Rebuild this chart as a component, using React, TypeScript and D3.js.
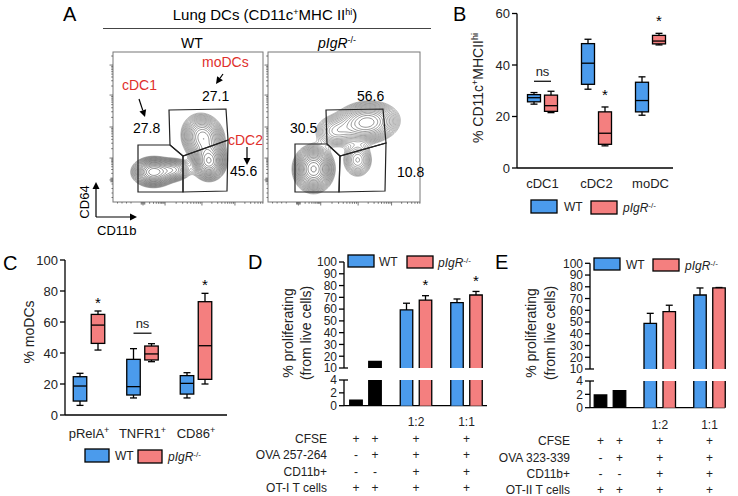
import React from 'react';
import * as d3 from 'd3';

const BLUE = '#4b9bec';
const PINK = '#f47f7f';
const FONT = '"Liberation Sans", Arial, sans-serif';

// ---------- Panel B ----------
const bCategories = ['cDC1', 'cDC2', 'moDC'];
// [whiskerLow, q1, median, q3, whiskerHigh]
const bWT = [[24.8, 25.7, 27.3, 28.5, 29.3], [30.6, 32.5, 40.7, 48.3, 50], [20.5, 21.8, 26.2, 33.3, 35.4]];
const bKO = [[21.5, 22, 24.2, 28.3, 29.8], [8.6, 9.2, 13.5, 21.8, 23.7], [47.8, 48.2, 49.3, 51.5, 52.3]];
const bTicks = [0, 20, 40, 60];
const bSig = ['ns', '*', '*'];

// ---------- Panel C ----------
const cCategories = ['pRelA', 'TNFR1', 'CD86'];
const cWT = [[6.2, 9, 18.7, 24.7, 26.9], [11, 12.9, 18.3, 35.9, 42.8], [11, 13.5, 20.4, 25.4, 27.3]];
const cKO = [[41.9, 46.2, 58, 64.9, 67.1], [34.4, 35.5, 39.4, 44.5, 46], [20, 23, 44.7, 73.1, 78.5]];
const cTicks = [0, 20, 40, 60, 80, 100];
const cSig = ['*', 'ns', '*'];

// ---------- Panel D ----------
const dGroups = ['ctrl', '1:2', '1:1'];
const dCtrl = [0.88, 15.5];
const dWT = [59.3, 65.5];
const dWTerr = [5.7, 3.1];
const dKO = [67.7, 72];
const dKOerr = [3.7, 3];
const dSig = ['', '*', '*'];
const dRows = ['CFSE', 'OVA 257-264', 'CD11b+', 'OT-I T cells'];
const dMarks = [['+', '+', '+', '+'], ['-', '+', '+', '+'], ['-', '-', '+', '+'], ['+', '+', '+', '+']];

// ---------- Panel E ----------
const eCtrl = [1.9, 2.55];
const eWT = [48.9, 73];
const eWTerr = [8.5, 6];
const eKO = [58.9, 79];
const eKOerr = [5.4, 0.4];
const eSig = ['', '', ''];
const eRows = ['CFSE', 'OVA 323-339', 'CD11b+', 'OT-II T cells'];
const eMarks = [['+', '+', '+', '+'], ['-', '+', '+', '+'], ['-', '-', '+', '+'], ['+', '+', '+', '+']];

const upperTicks = [10, 20, 30, 40, 50, 60, 70, 80, 90, 100];
const lowerTicks = [0, 2, 4];

// ---------- Panel A (flow populations: [cx, cy, sx, sy, angle, weight]) ----------
const wtBlobs = [
  [0.27, 0.2, 0.065, 0.045, 0, 1.0],
  [0.41, 0.215, 0.055, 0.037, 0, 0.45],
  [0.6, 0.43, 0.065, 0.075, 0.4, 0.75],
  [0.64, 0.27, 0.052, 0.058, 0, 1.0],
];
const koBlobs = [
  [0.3, 0.22, 0.06, 0.07, 0, 1.3],
  [0.65, 0.53, 0.1, 0.065, 0.1, 0.9],
  [0.44, 0.47, 0.07, 0.055, 0, 0.35],
  [0.59, 0.28, 0.05, 0.06, 0, 0.4],
];
const wtPercents = ['27.8', '27.1', '45.6'];
const koPercents = ['30.5', '56.6', '10.8'];

const KO = (sup = 8) => (
  <>
    <tspan fontStyle="italic">pIgR</tspan>
    <tspan baselineShift="super" fontSize={sup}>-/-</tspan>
  </>
);

function arrow(x1: number, y1: number, x2: number, y2: number, key: string) {
  const a = Math.atan2(y2 - y1, x2 - x1);
  const L = 7, W = 3.5;
  const bx = x2 - L * Math.cos(a), by = y2 - L * Math.sin(a);
  const p = [
    [x2, y2],
    [bx + W * Math.sin(a), by - W * Math.cos(a)],
    [bx - W * Math.sin(a), by + W * Math.cos(a)],
  ];
  return (
    <g key={key}>
      <line x1={x1} y1={y1} x2={bx} y2={by} stroke="#000" strokeWidth={1.2} />
      <polygon points={p.map((q) => q.join(',')).join(' ')} fill="#000" />
    </g>
  );
}

const thresholdsRel = d3.range(20).map((i) => 0.06 * Math.pow(0.96 / 0.06, i / 19));

function ContourPlot({ x0, y0, w, h, blobs, id }: any) {
  const n = 120;
  const values: number[] = new Array(n * n).fill(0);
  for (let j = 0; j < n; j++) {
    const v = 1 - (j + 0.5) / n;
    for (let i = 0; i < n; i++) {
      const u = (i + 0.5) / n;
      let s = 0;
      for (const [cx, cy, sx, sy, ang, wt] of blobs) {
        const dx = u - cx, dy = v - cy;
        const a = dx * Math.cos(ang) + dy * Math.sin(ang);
        const b = -dx * Math.sin(ang) + dy * Math.cos(ang);
        s += wt * Math.exp(-(a * a / (2 * sx * sx) + b * b / (2 * sy * sy)));
      }
      values[j * n + i] = s;
    }
  }
  const mx = d3.max(values) as number;
  const contours = d3.contours().size([n, n]).thresholds(thresholdsRel.map((t) => t * mx))(values);
  const path = d3.geoPath();
  return (
    <g>
      <clipPath id={id}>
        <rect x={x0} y={y0} width={w} height={h} />
      </clipPath>
      <g clipPath={`url(#${id})`}>
        <g transform={`translate(${x0},${y0}) scale(${w / n},${h / n})`}>
          {contours.map((c, k) => (
            <path key={k} d={path(c as any) || ''} fill="none" stroke="#333" strokeOpacity={0.55 + 0.4 * (k / contours.length)} strokeWidth={0.6} vectorEffect="non-scaling-stroke" />
          ))}
        </g>
      </g>
    </g>
  );
}

const leftMajors = [0.147, 0.293, 0.5, 0.713, 0.913];
const bottomMajors = [0.2, 0.347, 0.593, 0.813];

function fcsTicks(majors: number[]) {
  const out: { p: number; len: number }[] = [];
  majors.forEach((m, i) => {
    out.push({ p: m, len: 3.5 });
    const next = i < majors.length - 1 ? majors[i + 1] : m + (m - majors[i - 1]);
    const span = next - m;
    for (let k = 2; k <= 9; k++) {
      const p = m + Math.log10(k) * span;
      if (p < 1) out.push({ p, len: 1.8 });
    }
  });
  [-0.012, -0.006, 0.006, 0.012].forEach((d) => out.push({ p: majors[0] + d, len: 2.5 }));
  [0.03, 0.06, 0.09, 0.12].forEach((p) => out.push({ p, len: 1.5 }));
  return out;
}

function FlowBox({ x0, y0, w, h, blobs, id, gates }: any) {
  const lt = fcsTicks(leftMajors);
  const bt = fcsTicks(bottomMajors);
  return (
    <g>
      <ContourPlot x0={x0} y0={y0} w={w} h={h} blobs={blobs} id={id} />
      <rect x={x0} y={y0} width={w} height={h} fill="none" stroke="#777" strokeWidth={1} />
      {lt.map((t, k) => (
        <line key={'l' + k} x1={x0} x2={x0 - t.len} y1={y0 + h - t.p * h} y2={y0 + h - t.p * h} stroke="#555" strokeWidth={0.8} />
      ))}
      {bt.map((t, k) => (
        <line key={'b' + k} y1={y0 + h} y2={y0 + h + t.len} x1={x0 + t.p * w} x2={x0 + t.p * w} stroke="#555" strokeWidth={0.8} />
      ))}
      {gates.map((g: number[][], k: number) => (
        <polygon key={'g' + k} points={g.map((p) => p.join(',')).join(' ')} fill="none" stroke="#222" strokeWidth={1.2} />
      ))}
    </g>
  );
}

function PanelA() {
  const wtGates = [
    [[138, 145], [170, 145], [183, 156], [183, 192], [138, 192]],
    [[169, 110], [226, 109], [228, 140], [183, 156], [170, 145]],
    [[183, 156], [228, 140], [227, 191], [183, 192]],
  ];
  const koGates = [
    [[295, 144], [327, 144], [340, 156], [339, 192], [295, 192]],
    [[326, 110], [383, 109], [386, 143], [340, 156], [327, 144]],
    [[340, 156], [386, 143], [385, 191], [339, 192]],
  ];
  return (
    <g>
      <text x={63} y={21} fontSize={20}>A</text>
      <text x={265} y={20} fontSize={15} textAnchor="middle">
        Lung DCs (CD11c<tspan baselineShift="super" fontSize={9}>+</tspan>MHC II<tspan baselineShift="super" fontSize={9}>hi</tspan>)
      </text>
      <line x1={103} x2={431} y1={28.5} y2={28.5} stroke="#444" strokeWidth={1} />
      <text x={192} y={48} fontSize={14} textAnchor="middle">WT</text>
      <text x={337} y={48} fontSize={14} textAnchor="middle">{KO(9)}</text>
      <FlowBox x0={113} y0={52} w={150} h={150} blobs={wtBlobs} id="wtclip" gates={wtGates} />
      <FlowBox x0={268} y0={52} w={152} h={150} blobs={koBlobs} id="koclip" gates={koGates} />
      <text x={122} y={90} fontSize={14} fill="#e0302c">cDC1</text>
      <text x={202} y={67} fontSize={14} fill="#e0302c">moDCs</text>
      <text x={228} y={145} fontSize={14} fill="#e0302c">cDC2</text>
      <text x={133} y={133} fontSize={14}>{wtPercents[0]}</text>
      <text x={202} y={101} fontSize={14}>{wtPercents[1]}</text>
      <text x={230} y={176} fontSize={14}>{wtPercents[2]}</text>
      <text x={290} y={133} fontSize={14}>{koPercents[0]}</text>
      <text x={357} y={101} fontSize={14}>{koPercents[1]}</text>
      <text x={397} y={177} fontSize={14}>{koPercents[2]}</text>
      {arrow(139, 99, 145, 117, 'a1')}
      {arrow(223, 74, 216, 84, 'a2')}
      {arrow(247, 147, 247, 165, 'a3')}
      {arrow(96, 217, 96, 182, 'a4')}
      {arrow(96, 217, 137, 217, 'a5')}
      <text transform="translate(89,202) rotate(-90)" fontSize={13} textAnchor="middle">CD64</text>
      <text x={97} y={235} fontSize={13}>CD11b</text>
    </g>
  );
}

function BoxPanel(props: any) {
  const { cats, labels, wt, ko, ticks, yDom, yRange, axisX, axisEnd, cRange, off, bw, sig, letter, letterPos, ylabel, ylabelPos, catY, legend, starOff, nsOff } = props;
  const y = d3.scaleLinear().domain(yDom).range(yRange);
  const xc = d3.scalePoint().domain(cats).range(cRange);
  const drawBox = (s: number[], cx: number, fill: string, key: string) => (
    <g key={key}>
      <line x1={cx} x2={cx} y1={y(s[0])} y2={y(s[4])} stroke="#000" strokeWidth={1.3} />
      <line x1={cx - 3.5} x2={cx + 3.5} y1={y(s[0])} y2={y(s[0])} stroke="#000" strokeWidth={1.3} />
      <line x1={cx - 3.5} x2={cx + 3.5} y1={y(s[4])} y2={y(s[4])} stroke="#000" strokeWidth={1.3} />
      <rect x={cx - bw / 2} y={y(s[3])} width={bw} height={y(s[1]) - y(s[3])} fill={fill} stroke="#000" strokeWidth={1.3} />
      <line x1={cx - bw / 2} x2={cx + bw / 2} y1={y(s[2])} y2={y(s[2])} stroke="#000" strokeWidth={1.3} />
    </g>
  );
  return (
    <g>
      <text x={letterPos[0]} y={letterPos[1]} fontSize={20}>{letter}</text>
      <line x1={axisX} x2={axisX} y1={y(yDom[1])} y2={y(yDom[0])} stroke="#000" strokeWidth={1.3} />
      <line x1={axisX} x2={axisEnd} y1={y(yDom[0])} y2={y(yDom[0])} stroke="#000" strokeWidth={1.3} />
      {ticks.map((t: number) => (
        <g key={t}>
          <line x1={axisX - 5} x2={axisX} y1={y(t)} y2={y(t)} stroke="#000" strokeWidth={1.3} />
          <text x={axisX - 7} y={y(t)} dy="0.36em" fontSize={13} textAnchor="end" fill="#222">{t}</text>
        </g>
      ))}
      <text transform={`translate(${ylabelPos[0]},${ylabelPos[1]}) rotate(-90)`} dy="0.35em" fontSize={14} textAnchor="middle" fill="#222">{ylabel}</text>
      {cats.map((c: string, i: number) => {
        const cx = xc(c) as number;
        const top = Math.max(wt[i][4], ko[i][4]);
        return (
          <g key={c}>
            {drawBox(wt[i], cx - off, BLUE, 'w')}
            {drawBox(ko[i], cx + off, PINK, 'k')}
            <text x={cx} y={catY} fontSize={13} textAnchor="middle" fill="#222">{labels[i]}</text>
            {sig[i] === '*' && (
              <text x={cx + off} y={y(ko[i][4]) - starOff + 8.8} fontSize={15} textAnchor="middle">*</text>
            )}
            {sig[i] === 'ns' && (
              <g>
                <line x1={cx - off} x2={cx + off} y1={y(top) - nsOff} y2={y(top) - nsOff} stroke="#000" strokeWidth={1.2} />
                <text x={cx} y={y(top) - nsOff - 5} fontSize={13} textAnchor="middle" fill="#222">ns</text>
              </g>
            )}
          </g>
        );
      })}
      <Legend {...legend} />
    </g>
  );
}

function Legend({ wx, kx, y, w, h, wtx, kox, ty }: any) {
  return (
    <g>
      <rect x={wx} y={y} width={w} height={h} fill={BLUE} stroke="#000" strokeWidth={1.3} />
      <text x={wtx} y={ty} fontSize={12} fill="#222">WT</text>
      <rect x={kx} y={y + 1} width={w} height={h} fill={PINK} stroke="#000" strokeWidth={1.3} />
      <text x={kox} y={ty + 1} fontSize={12} fill="#222">{KO(8)}</text>
    </g>
  );
}

function BreakPanel(props: any) {
  const { letter, letterPos, axisX, axisEnd, yU100, yU10, yL4, yL0, gRange, ctrl, wtv, wterr, kov, koerr, sig, rows, marks, labelX, rowY, ratioY, ylabX, ylabY, legend } = props;
  const yU = d3.scaleLinear().domain([10, 100]).range([yU10, yU100]);
  const yL = d3.scaleLinear().domain([0, 4]).range([yL0, yL4]);
  const gx = d3.scalePoint().domain(dGroups).range(gRange);
  const off = 9.5, bw = 12.5;
  const bar = (v: number, cx: number, fill: string, key: string, err?: number) => {
    const x0 = cx - bw / 2, x1 = cx + bw / 2;
    const lowTop = yL(Math.min(v, 4));
    const parts: any[] = [];
    parts.push(<rect key="lf" x={x0} y={lowTop} width={bw} height={yL0 - lowTop} fill={fill} />);
    parts.push(
      <path key="lo" d={v <= 4 ? `M${x0},${yL0}V${lowTop}H${x1}V${yL0}` : `M${x0},${yL0}V${lowTop}M${x1},${lowTop}V${yL0}`} fill="none" stroke="#000" strokeWidth={1.3} />
    );
    if (v > 10) {
      const t = yU(v);
      parts.push(<rect key="uf" x={x0} y={t} width={bw} height={yU10 - t} fill={fill} />);
      parts.push(<path key="uo" d={`M${x0},${yU10}V${t}H${x1}V${yU10}`} fill="none" stroke="#000" strokeWidth={1.3} />);
      if (err) {
        const e = yU(v + err);
        parts.push(<line key="e1" x1={cx} x2={cx} y1={t} y2={e} stroke="#000" strokeWidth={1.3} />);
        parts.push(<line key="e2" x1={cx - 3.5} x2={cx + 3.5} y1={e} y2={e} stroke="#000" strokeWidth={1.3} />);
      }
    }
    return <g key={key}>{parts}</g>;
  };
  const ctrlX = [(gx('ctrl') as number) - off, (gx('ctrl') as number) + off];
  const colX = [ctrlX[0], ctrlX[1], gx('1:2') as number, gx('1:1') as number];
  return (
    <g>
      <text x={letterPos[0]} y={letterPos[1]} fontSize={20}>{letter}</text>
      <line x1={axisX} x2={axisX} y1={yU100} y2={yU10} stroke="#000" strokeWidth={1.3} />
      <line x1={axisX} x2={axisX} y1={yL4} y2={yL0} stroke="#000" strokeWidth={1.3} />
      <line x1={axisX} x2={axisEnd} y1={yL0} y2={yL0} stroke="#000" strokeWidth={1.3} />
      {upperTicks.map((t) => (
        <g key={'u' + t}>
          <line x1={axisX - 5} x2={t === 10 ? axisX + 4 : axisX} y1={yU(t)} y2={yU(t)} stroke="#000" strokeWidth={1.3} />
          <text x={axisX - 7} y={yU(t)} dy="0.36em" fontSize={12} textAnchor="end" fill="#222">{t}</text>
        </g>
      ))}
      {lowerTicks.map((t) => (
        <g key={'l' + t}>
          <line x1={axisX - 5} x2={t === 4 ? axisX + 4 : axisX} y1={yL(t)} y2={yL(t)} stroke="#000" strokeWidth={1.3} />
          <text x={axisX - 7} y={yL(t)} dy="0.36em" fontSize={12} textAnchor="end" fill="#222">{t}</text>
        </g>
      ))}
      <text transform={`translate(${ylabX[0]},${ylabY}) rotate(-90)`} dy="0.35em" fontSize={14} textAnchor="middle" fill="#222">% proliferating</text>
      <text transform={`translate(${ylabX[1]},${ylabY}) rotate(-90)`} dy="0.35em" fontSize={14} textAnchor="middle" fill="#222">(from live cells)</text>
      {ctrl.map((v: number, i: number) => bar(v, ctrlX[i], '#000', 'c' + i))}
      {['1:2', '1:1'].map((g, i) => {
        const cx = gx(g) as number;
        return (
          <g key={g}>
            {bar(wtv[i], cx - off, BLUE, 'w', wterr[i])}
            {bar(kov[i], cx + off, PINK, 'k', koerr[i])}
            <text x={cx} y={ratioY} fontSize={12} textAnchor="middle" fill="#222">{g}</text>
            {sig[i + 1] === '*' && (
              <text x={cx + off} y={yU(kov[i] + koerr[i]) - 14.5 + 8.8} fontSize={15} textAnchor="middle">*</text>
            )}
          </g>
        );
      })}
      {rows.map((r: string, ri: number) => (
        <g key={r}>
          <text x={labelX} y={rowY[ri]} fontSize={12} textAnchor="end" fill="#222">{r}</text>
          {marks[ri].map((m: string, ci: number) => (
            <text key={ci} x={colX[ci]} y={rowY[ri]} fontSize={12} textAnchor="middle" fill="#222">{m}</text>
          ))}
        </g>
      ))}
      <Legend {...legend} />
    </g>
  );
}

export default function App() {
  return (
    <svg width={738} height={496} style={{ position: 'absolute', left: 0, top: 0, background: '#fff' }} fontFamily={FONT}>
      <rect width={738} height={496} fill="#fff" />
      <PanelA />
      <BoxPanel
        cats={bCategories}
        labels={bCategories}
        wt={bWT}
        ko={bKO}
        ticks={bTicks}
        yDom={[0, 60]}
        yRange={[168, 13.5]}
        axisX={517}
        axisEnd={673}
        cRange={[542.5, 650.5]}
        off={8.5}
        bw={13}
        sig={bSig}
        starOff={16}
        nsOff={10}
        letter="B"
        letterPos={[453, 21]}
        ylabel={<>% CD11c<tspan baselineShift="super" fontSize={9}>+</tspan>MHCII<tspan baselineShift="super" fontSize={9}>hi</tspan></>}
        ylabelPos={[478, 88]}
        catY={188}
        legend={{ wx: 531, kx: 591, y: 200, w: 26, h: 13, wtx: 564, kox: 623, ty: 211 }}
      />
      <BoxPanel
        cats={cCategories}
        labels={cCategories.map((c) => (
          <>{c}<tspan baselineShift="super" fontSize={9}>+</tspan></>
        ))}
        wt={cWT}
        ko={cKO}
        ticks={cTicks}
        yDom={[0, 100]}
        yRange={[415, 260]}
        axisX={65}
        axisEnd={227}
        cRange={[89, 196]}
        off={9}
        bw={13.5}
        sig={cSig}
        starOff={12}
        nsOff={10.5}
        letter="C"
        letterPos={[3, 270]}
        ylabel="% moDCs"
        ylabelPos={[29, 332]}
        catY={438}
        legend={{ wx: 85, kx: 138, y: 449, w: 24, h: 13, wtx: 115, kox: 168, ty: 460 }}
      />
      <BreakPanel
        letter="D"
        letterPos={[248, 269]}
        axisX={344}
        axisEnd={487}
        yU100={262}
        yU10={368}
        yL4={380}
        yL0={405.7}
        gRange={[365.5, 466.5]}
        ctrl={dCtrl}
        wtv={dWT}
        wterr={dWTerr}
        kov={dKO}
        koerr={dKOerr}
        sig={dSig}
        rows={dRows}
        marks={dMarks}
        labelX={327}
        rowY={[443, 459, 476, 492]}
        ratioY={425.5}
        ylabX={[288, 306]}
        ylabY={333}
        legend={{ wx: 348, kx: 407, y: 255, w: 26, h: 12, wtx: 379, kox: 438, ty: 266 }}
      />
      <BreakPanel
        letter="E"
        letterPos={[495, 269]}
        axisX={590}
        axisEnd={725}
        yU100={263.3}
        yU10={369}
        yL4={381}
        yL0={407.7}
        gRange={[610, 709.5]}
        ctrl={eCtrl}
        wtv={eWT}
        wterr={eWTerr}
        kov={eKO}
        koerr={eKOerr}
        sig={eSig}
        rows={eRows}
        marks={eMarks}
        labelX={570}
        rowY={[445, 462, 478, 494]}
        ratioY={428.5}
        ylabX={[531.5, 550]}
        ylabY={333}
        legend={{ wx: 594, kx: 653, y: 258, w: 26, h: 12, wtx: 626, kox: 685, ty: 269 }}
      />
    </svg>
  );
}
